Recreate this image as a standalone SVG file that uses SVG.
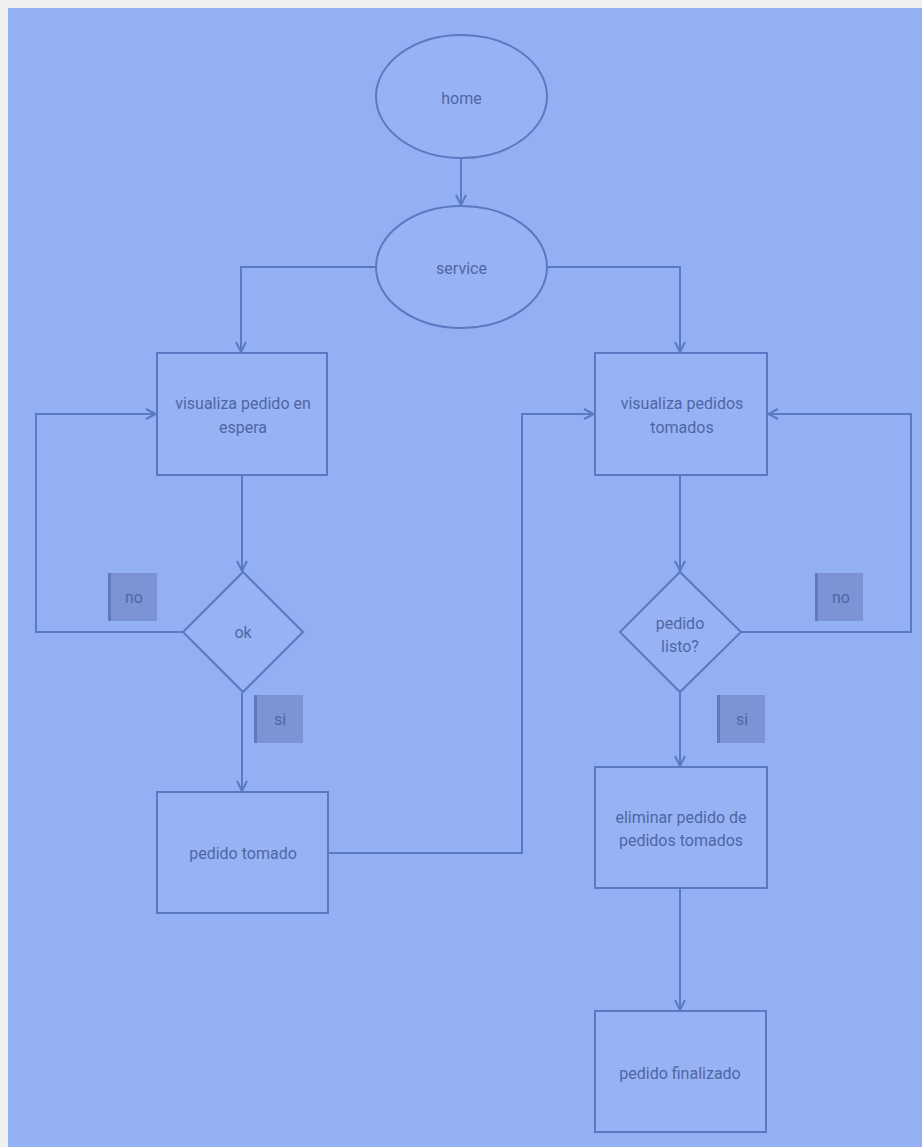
<svg xmlns="http://www.w3.org/2000/svg" width="922" height="1147" viewBox="0 0 922 1147">
  <style>
    .shape { fill: #97b3f6; stroke: #5b78c2; stroke-width: 2; }
    .wire { fill: none; stroke: #5b78c2; stroke-width: 2; }
    .txt { font-family: Roboto, "Liberation Sans", sans-serif; font-size: 16px; fill: #5066a3; text-anchor: middle; }
    .tag { fill: #7c94d6; }
    .tag-edge { fill: #5f79c0; }
  </style>
  <defs>
    <marker id="arrow" viewBox="0 0 12 12" refX="11" refY="6" markerWidth="12" markerHeight="12" markerUnits="userSpaceOnUse" orient="auto">
      <path d="M1,1 L11,6 L1,11" fill="none" stroke="#5b78c2" stroke-width="2"/>
    </marker>
  </defs>

  <!-- page -->
  <rect x="0" y="0" width="922" height="1147" fill="#efefef"/>
  <rect x="8" y="8" width="914" height="1139" fill="#93b0f4"/>

  <!-- connectors -->
  <g id="connectors">
    <path class="wire" d="M461,158 V205" marker-end="url(#arrow)"/>
    <path class="wire" d="M376,267 H241 V352" marker-end="url(#arrow)"/>
    <path class="wire" d="M547,267 H680 V352" marker-end="url(#arrow)"/>
    <path class="wire" d="M242,475 V571" marker-end="url(#arrow)"/>
    <path class="wire" d="M183,632 H36 V414 H156" marker-end="url(#arrow)"/>
    <path class="wire" d="M242,693 V791" marker-end="url(#arrow)"/>
    <path class="wire" d="M328,853 H522 V414 H594" marker-end="url(#arrow)"/>
    <path class="wire" d="M680,475 V571" marker-end="url(#arrow)"/>
    <path class="wire" d="M741,632 H911 V414 H768" marker-end="url(#arrow)"/>
    <path class="wire" d="M680,693 V766" marker-end="url(#arrow)"/>
    <path class="wire" d="M680,888 V1010" marker-end="url(#arrow)"/>
  </g>

  <g id="home">
    <ellipse class="shape" cx="461.5" cy="96.5" rx="85.5" ry="61.5"/>
    <text class="txt" x="461.5" y="104">home</text>
  </g>

  <g id="service">
    <ellipse class="shape" cx="461.5" cy="267" rx="85.5" ry="61"/>
    <text class="txt" x="461.5" y="274">service</text>
  </g>

  <g id="visualiza-espera">
    <rect class="shape" x="157" y="353" width="170" height="122"/>
    <text class="txt" x="243" y="409">visualiza pedido en</text>
    <text class="txt" x="243" y="433">espera</text>
  </g>

  <g id="visualiza-tomados">
    <rect class="shape" x="595" y="353" width="172" height="122"/>
    <text class="txt" x="682" y="409">visualiza pedidos</text>
    <text class="txt" x="682" y="433">tomados</text>
  </g>

  <g id="ok">
    <polygon class="shape" points="243,572 303,632 243,692 183,632"/>
    <text class="txt" x="243" y="638">ok</text>
  </g>

  <g id="pedido-listo">
    <polygon class="shape" points="680,572 741,632 680,692 620,632"/>
    <text class="txt" x="680" y="629">pedido</text>
    <text class="txt" x="680" y="652">listo?</text>
  </g>

  <g id="label-no-left">
    <rect class="tag" x="108" y="573" width="49" height="48"/>
    <rect class="tag-edge" x="108" y="573" width="3" height="48"/>
    <text class="txt" x="134" y="603">no</text>
  </g>

  <g id="label-si-left">
    <rect class="tag" x="254" y="695" width="49" height="48"/>
    <rect class="tag-edge" x="254" y="695" width="3" height="48"/>
    <text class="txt" x="280" y="725">si</text>
  </g>

  <g id="label-no-right">
    <rect class="tag" x="815" y="573" width="48" height="48"/>
    <rect class="tag-edge" x="815" y="573" width="3" height="48"/>
    <text class="txt" x="841" y="603">no</text>
  </g>

  <g id="label-si-right">
    <rect class="tag" x="717" y="695" width="48" height="48"/>
    <rect class="tag-edge" x="717" y="695" width="3" height="48"/>
    <text class="txt" x="742" y="725">si</text>
  </g>

  <g id="pedido-tomado">
    <rect class="shape" x="157" y="792" width="171" height="121"/>
    <text class="txt" x="243" y="859">pedido tomado</text>
  </g>

  <g id="eliminar">
    <rect class="shape" x="595" y="767" width="172" height="121"/>
    <text class="txt" x="681" y="823">eliminar pedido de</text>
    <text class="txt" x="681" y="846">pedidos tomados</text>
  </g>

  <g id="pedido-finalizado">
    <rect class="shape" x="595" y="1011" width="171" height="121"/>
    <text class="txt" x="680" y="1079">pedido finalizado</text>
  </g>
</svg>
